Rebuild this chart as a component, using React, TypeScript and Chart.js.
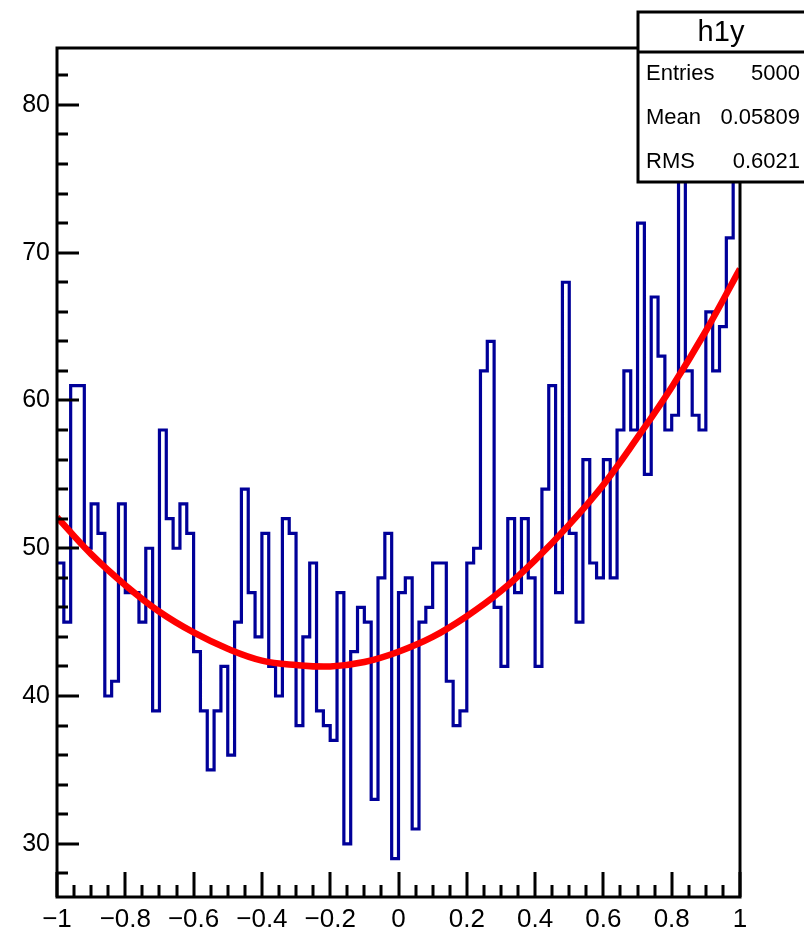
import React, { useEffect, useRef } from 'react';
import { Chart, registerables } from 'chart.js';

Chart.register(...registerables);

// ---- data ----
const binLow = -1;
const binHigh = 1;
const binCounts = [
  49, 45, 61, 61, 50, 53, 51, 40, 41, 53,
  47, 47, 45, 50, 39, 58, 52, 50, 53, 51,
  43, 39, 35, 39, 42, 36, 45, 54, 47, 44,
  51, 42, 40, 52, 51, 38, 44, 49, 39, 38,
  37, 47, 30, 43, 46, 45, 33, 48, 51, 29,
  47, 48, 31, 45, 46, 49, 49, 41, 38, 39,
  49, 50, 62, 64, 46, 42, 52, 47, 52, 48,
  42, 54, 61, 47, 68, 51, 45, 56, 49, 48,
  56, 48, 58, 62, 58, 72, 55, 67, 63, 58,
  59, 81, 62, 59, 58, 66, 62, 65, 71, 81,
];
const fitX = [-1, -0.9, -0.8, -0.7, -0.6, -0.5, -0.4, -0.3, -0.2, -0.1, 0, 0.1, 0.2, 0.3, 0.4, 0.5, 0.6, 0.7, 0.8, 0.9, 1];
const fitY = [52.1, 49.6, 47.5, 45.7, 44.3, 43.2, 42.4, 42.1, 42.0, 42.3, 43.0, 44.0, 45.4, 47.1, 49.2, 51.6, 54.3, 57.5, 60.9, 64.7, 68.9];
const xTicks = [-1, -0.8, -0.6, -0.4, -0.2, 0, 0.2, 0.4, 0.6, 0.8, 1];
const xTickLabels = ['\u22121', '\u22120.8', '\u22120.6', '\u22120.4', '\u22120.2', '0', '0.2', '0.4', '0.6', '0.8', '1'];
const yTicks = [30, 40, 50, 60, 70, 80];
const yTickLabels = ['30', '40', '50', '60', '70', '80'];
const yMin = 26.4;
const yMax = 83.85;
const statsTitle = 'h1y';
const statsNames = ['Entries', 'Mean', 'RMS'];
const statsValues = ['5000', '0.05809', '0.6021'];

const FONT = '"Liberation Sans", Arial, Helvetica, sans-serif';

const framePlugin = {
  id: 'rootFrame',
  afterDatasetsDraw(chart: any) {
    const { ctx, chartArea, scales } = chart;
    const xs = scales.x;
    const ys = scales.y;
    ctx.save();
    ctx.strokeStyle = '#000';
    ctx.lineWidth = 3;
    ctx.lineCap = 'butt';
    ctx.strokeRect(chartArea.left, chartArea.top, chartArea.right - chartArea.left, chartArea.bottom - chartArea.top);
    ctx.beginPath();
    for (let v = 28; v <= yMax; v += 2) {
      const py = Math.round(ys.getPixelForValue(v));
      const major = yTicks.includes(v);
      ctx.moveTo(chartArea.left, py);
      ctx.lineTo(chartArea.left + (major ? 22 : 11), py);
    }
    for (let k = 0; k <= 40; k++) {
      const v = binLow + k * 0.05;
      const px = Math.round(xs.getPixelForValue(v));
      const major = k % 4 === 0;
      ctx.moveTo(px, chartArea.bottom);
      ctx.lineTo(px, chartArea.bottom - (major ? 25 : 12));
    }
    ctx.stroke();
    ctx.restore();
  },
  afterDraw(chart: any) {
    const { ctx } = chart;
    const bx = 638, by = 12, bw = 170, bh = 170, titleH = 40;
    ctx.save();
    ctx.fillStyle = '#fff';
    ctx.fillRect(bx, by, bw, bh);
    ctx.strokeStyle = '#000';
    ctx.lineWidth = 3;
    ctx.strokeRect(bx, by, bw, bh);
    ctx.beginPath();
    ctx.moveTo(bx, by + titleH);
    ctx.lineTo(bx + bw, by + titleH);
    ctx.stroke();
    ctx.fillStyle = '#000';
    ctx.textBaseline = 'middle';
    ctx.font = `29px ${FONT}`;
    ctx.textAlign = 'center';
    ctx.fillText(statsTitle, 721, by + titleH / 2 + 1);
    ctx.font = `22px ${FONT}`;
    const rowsY = [74, 118, 162];
    statsNames.forEach((n, i) => {
      ctx.textAlign = 'left';
      ctx.fillText(n, 646, rowsY[i]);
      ctx.textAlign = 'right';
      ctx.fillText(statsValues[i], 800, rowsY[i]);
    });
    ctx.restore();
  },
};

export default function App() {
  const ref = useRef<HTMLCanvasElement>(null);
  useEffect(() => {
    if (!ref.current) return;
    const binW = (binHigh - binLow) / binCounts.length;
    const histPts = binCounts.map((c, i) => ({ x: binLow + i * binW, y: c }));
    histPts.push({ x: binHigh, y: binCounts[binCounts.length - 1] });
    const fitPts = fitX.map((x, i) => ({ x, y: fitY[i] }));
    const chart = new Chart(ref.current, {
      type: 'line',
      data: {
        datasets: [
          {
            data: fitPts,
            borderColor: '#ff0000',
            borderWidth: 6.5,
            pointRadius: 0,
            tension: 0.4,
            fill: false,
            order: 0,
          },
          {
            data: histPts,
            borderColor: '#000099',
            borderWidth: 3.2,
            pointRadius: 0,
            stepped: 'before',
            fill: false,
            order: 1,
          },
        ],
      },
      options: {
        animation: false,
        responsive: false,
        events: [],
        layout: { padding: { top: 48, right: 64, left: 0, bottom: 0 } },
        plugins: { legend: { display: false }, tooltip: { enabled: false } },
        scales: {
          x: {
            type: 'linear',
            min: binLow,
            max: binHigh,
            grid: { display: false, drawTicks: false },
            border: { display: false },
            afterBuildTicks: (s: any) => {
              s.ticks = xTicks.map((v) => ({ value: v }));
            },
            afterFit: (s: any) => {
              s.height = 40;
            },
            ticks: {
              autoSkip: false,
              maxRotation: 0,
              padding: 7,
              color: '#000',
              font: { family: FONT, size: 26 },
              callback: (_v: any, i: number) => xTickLabels[i],
            },
          },
          y: {
            type: 'linear',
            min: yMin,
            max: yMax,
            grid: { display: false, drawTicks: false },
            border: { display: false },
            afterBuildTicks: (s: any) => {
              s.ticks = yTicks.map((v) => ({ value: v }));
            },
            afterFit: (s: any) => {
              s.width = 57;
            },
            ticks: {
              autoSkip: false,
              padding: 7,
              color: '#000',
              font: { family: FONT, size: 25 },
              callback: (_v: any, i: number) => yTickLabels[i],
            },
          },
        },
      },
      plugins: [framePlugin],
    });
    return () => chart.destroy();
  }, []);
  return (
    <div style={{ position: 'absolute', left: 0, top: 0, width: 804, height: 937, background: '#fff' }}>
      <canvas ref={ref} width={804} height={937} style={{ width: 804, height: 937, display: 'block' }} />
    </div>
  );
}
